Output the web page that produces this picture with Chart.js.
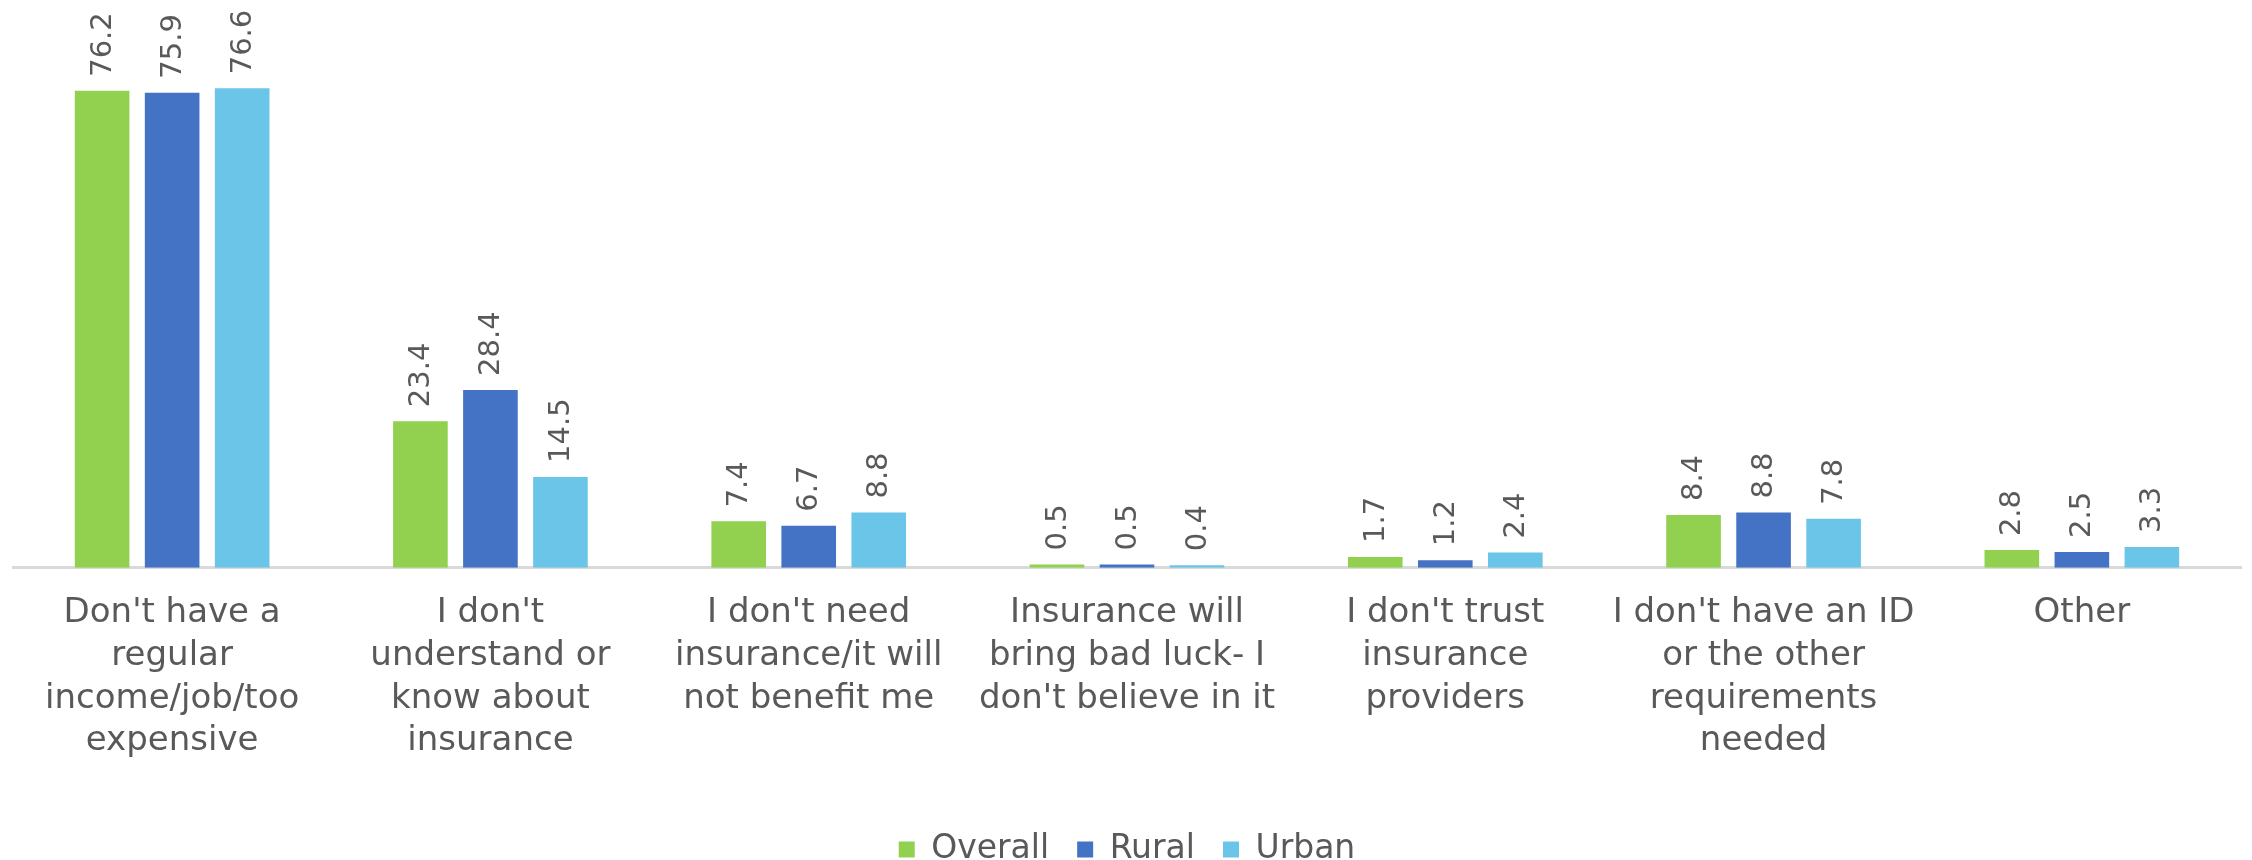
<!DOCTYPE html>
<html>
<head>
<meta charset="utf-8">
<script src="https://cdn.jsdelivr.net/npm/chart.js@4/dist/chart.umd.min.js"></script>
<style>
  html, body { margin: 0; padding: 0; background: #fff; }
</style>
</head>
<body>
<canvas id="reasons" width="2252" height="860"></canvas>
<script>
const categories = [
  ["Don't have a", "regular", "income/job/too", "expensive"],
  ["I don't", "understand or", "know about", "insurance"],
  ["I don't need", "insurance/it will", "not benefit me"],
  ["Insurance will", "bring bad luck- I", "don't believe in it"],
  ["I don't trust", "insurance", "providers"],
  ["I don't have an ID", "or the other", "requirements", "needed"],
  ["Other"]
];
const overall = [76.2, 23.4, 7.4, 0.5, 1.7, 8.4, 2.8];
const rural = [75.9, 28.4, 6.7, 0.5, 1.2, 8.8, 2.5];
const urban = [76.6, 14.5, 8.8, 0.4, 2.4, 7.8, 3.3];

const textColor = "#595959";
const fontFamily = "'DejaVu Sans', sans-serif";

// rotated value labels above each bar
const barLabels = {
  id: "barLabels",
  afterDatasetsDraw(chart) {
    const ctx = chart.ctx;
    ctx.save();
    ctx.fillStyle = textColor;
    ctx.font = "29px " + fontFamily;
    ctx.textAlign = "left";
    ctx.textBaseline = "middle";
    chart.data.datasets.forEach((ds, i) => {
      const meta = chart.getDatasetMeta(i);
      meta.data.forEach((bar, j) => {
        ctx.save();
        ctx.translate(bar.x + 1, bar.y - 14);
        ctx.rotate(-Math.PI / 2);
        ctx.fillText(ds.data[j].toFixed(1), 0, 0);
        ctx.restore();
      });
    });
    ctx.restore();
  }
};

new Chart(document.getElementById("reasons"), {
  type: "bar",
  data: {
    labels: categories,
    datasets: [
      { label: "Overall", data: overall, backgroundColor: "#92D050" },
      { label: "Rural", data: rural, backgroundColor: "#4472C4" },
      { label: "Urban", data: urban, backgroundColor: "#6BC5E8" }
    ]
  },
  options: {
    responsive: false,
    devicePixelRatio: 1,
    animation: false,
    categoryPercentage: 0.66,
    barPercentage: 0.78,
    layout: { padding: { top: 67, left: 13, right: 11, bottom: -16 } },
    plugins: {
      tooltip: { enabled: false },
      legend: {
        position: "bottom",
        labels: {
          color: textColor,
          font: { family: fontFamily, size: 33 },
          boxWidth: 16,
          boxHeight: 16,
          padding: 28
        }
      }
    },
    scales: {
      x: {
        grid: { display: false },
        border: { color: "#D9D9D9", width: 3 },
        ticks: {
          color: textColor,
          font: { family: fontFamily, size: 34, lineHeight: 1.26 },
          padding: 16,
          maxRotation: 0,
          autoSkip: false
        },
        afterFit(scale) {
          // extra room between the category labels and the legend
          scale.height += 26;
        }
      },
      y: {
        display: false,
        min: 0,
        max: 80
      }
    }
  },
  plugins: [barLabels]
});
</script>
</body>
</html>
